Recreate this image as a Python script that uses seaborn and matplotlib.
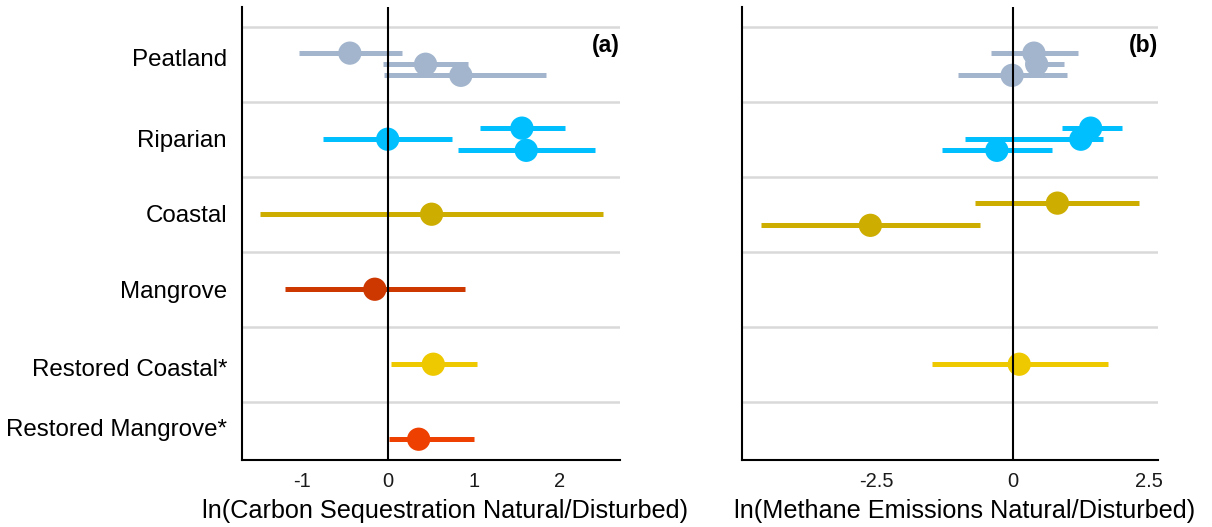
import numpy as np
import pandas as pd
import matplotlib
matplotlib.use("Agg")
import matplotlib.pyplot as plt
import seaborn as sns

# ---------------- data ----------------
habitats = ["Peatland", "Riparian", "Coastal", "Mangrove",
            "Restored Coastal", "Restored Mangrove"]
habitat_labels = ["Peatland", "Riparian", "Coastal", "Mangrove",
                  "Restored Coastal*", "Restored Mangrove*"]
habitat_colors = ["#A2B5CD", "#00BFFF", "#CDAD00", "#CD3700", "#EEC900", "#EE4000"]

# panel (a): ln(Carbon Sequestration Natural/Disturbed)
carbon_habitat = ["Peatland", "Peatland", "Peatland",
                  "Riparian", "Riparian", "Riparian",
                  "Coastal", "Mangrove", "Restored Coastal", "Restored Mangrove"]
carbon_slot = [-1, 0, 1, -1, 0, 1, 0, 0, 0, 0]
carbon_mean = [-0.44, 0.44, 0.85, 1.56, 0.00, 1.61, 0.51, -0.15, 0.53, 0.36]
carbon_lo = [-1.03, -0.06, -0.04, 1.07, -0.75, 0.82, -1.49, -1.19, 0.04, 0.01]
carbon_hi = [0.17, 0.93, 1.84, 2.06, 0.75, 2.41, 2.50, 0.90, 1.04, 1.00]

# panel (b): ln(Methane Emissions Natural/Disturbed)
methane_habitat = ["Peatland", "Peatland", "Peatland",
                   "Riparian", "Riparian", "Riparian",
                   "Coastal", "Coastal", "Restored Coastal"]
methane_slot = [-1, 0, 1, -1, 0, 1, -1, 1, 0]
methane_mean = [0.39, 0.44, -0.01, 1.43, 1.25, -0.29, 0.82, -2.61, 0.12]
methane_lo = [-0.40, 0.30, -1.00, 0.90, -0.87, -1.29, -0.69, -4.62, -1.48]
methane_hi = [1.20, 0.95, 1.00, 2.01, 1.66, 0.72, 2.32, -0.60, 1.74]

carbon_xticks = [-1, 0, 1, 2]
carbon_xticklabels = ["-1", "0", "1", "2"]
methane_xticks = [-2.5, 0, 2.5]
methane_xticklabels = ["-2.5", "0", "2.5"]

# ---------------- style ----------------
sns.set_theme(style="white")
plt.rcParams["font.family"] = ["Liberation Sans", "DejaVu Sans"]

palette = dict(zip(habitats, habitat_colors))
DODGE = 0.148

fig = plt.figure(figsize=(12.12, 5.27), dpi=100)
ax_a = fig.add_axes([242.3 / 1212, 1 - 460 / 527, (620 - 242.3) / 1212, (460 - 7) / 527])
ax_b = fig.add_axes([741.7 / 1212, 1 - 460 / 527, (1157.7 - 741.7) / 1212, (460 - 7) / 527])


def make_df(hab, slot, mean, lo, hi):
    df = pd.DataFrame({"habitat": hab, "slot": slot, "mean": mean, "lo": lo, "hi": hi})
    df["y"] = df["habitat"].map({h: i for i, h in enumerate(habitats)}) + df["slot"] * DODGE
    return df


def draw(ax, df, xlim, xticks, xticklabels, xlabel, tag, label_x):
    ylim = (5.277, -0.763)
    for s in np.arange(-0.5, 5.0, 1.0):
        ax.axhline(s, color="#D9D9D9", lw=1.8, zorder=0)
    ax.hlines(df["y"], df["lo"], df["hi"], colors=df["habitat"].map(palette),
              lw=3.6, zorder=2)
    sns.scatterplot(data=df, x="mean", y="y", hue="habitat", palette=palette,
                    s=280, edgecolor="none", linewidth=0, legend=False,
                    ax=ax, zorder=3)
    ax.axvline(0, color="black", lw=1.5, zorder=4)
    ax.set_xlim(*xlim)
    ax.set_ylim(*ylim)
    ax.set_xticks(xticks)
    ax.set_xticklabels(xticklabels, fontsize=14.5, color="#1a1a1a")
    ax.set_xlabel(xlabel, fontsize=18.2, color="black")
    ax.xaxis.label.set_va("center")
    ax.xaxis.set_label_coords(label_x, -(511 - 460) / 453)
    ax.set_ylabel("")
    for sp in ["top", "right"]:
        ax.spines[sp].set_visible(False)
    for sp in ["left", "bottom"]:
        ax.spines[sp].set_color("black")
        ax.spines[sp].set_linewidth(1.5)
    ax.tick_params(axis="x", direction="out", length=3.8, width=1.2,
                   color="black", pad=5)
    ax.text(1.0, 0.916, tag, transform=ax.transAxes, ha="right", va="center",
            fontsize=16.5, fontweight="bold", color="black")


df_a = make_df(carbon_habitat, carbon_slot, carbon_mean, carbon_lo, carbon_hi)
df_b = make_df(methane_habitat, methane_slot, methane_mean, methane_lo, methane_hi)

draw(ax_a, df_a, (-1.69, 2.70), carbon_xticks, carbon_xticklabels,
     "ln(Carbon Sequestration Natural/Disturbed)", "(a)", 0.538)
draw(ax_b, df_b, (-4.97, 2.66), methane_xticks, methane_xticklabels,
     "ln(Methane Emissions Natural/Disturbed)", "(b)", 0.537)

# y labels on panel (a)
label_pos = [-0.09, 0.99, 1.99, 3.01, 4.05, 4.85]
ax_a.set_yticks(label_pos)
ax_a.set_yticklabels(habitat_labels, fontsize=17.4, color="black")
ax_a.tick_params(axis="y", length=0, pad=11)

# faint ticks on panel (b)
ax_b.set_yticks(range(len(habitats)))
ax_b.set_yticklabels([])
ax_b.tick_params(axis="y", length=3, width=0.8, color="#BBBBBB", direction="out")

fig.savefig("out.png", dpi=100)
